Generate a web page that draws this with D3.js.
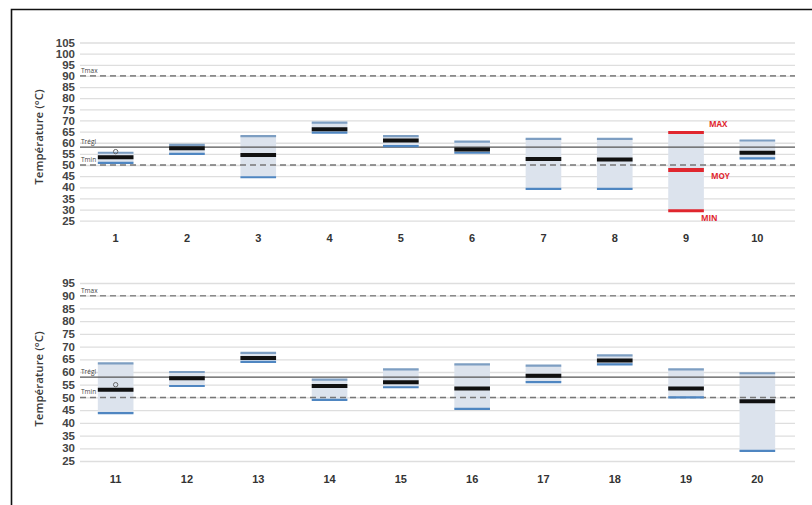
<!DOCTYPE html>
<html>
<head>
<meta charset="utf-8">
<script src="https://cdn.jsdelivr.net/npm/d3@7"></script>
<style>
  body { margin: 0; background: #fff; }
  svg { display: block; font-family: "Open Sans", "Liberation Sans", sans-serif; }
</style>
</head>
<body>
<div id="chart"></div>
<script>
const w = 812
const h = 505

// données
const categories = ['1','2','3','4','5','6','7','8','9','10','11','12','13','14','15','16','17','18','19','20']
const maxVals  = [55.5, 59, 63, 69, 63, 60.5, 61.7, 61.7, 64.6, 61, 63.4, 60, 67.5, 57, 61, 63, 62.5, 66.5, 61, 59.5]
const meanVals = [53.5, 57.5, 54.5, 66, 61, 57, 52.7, 52.5, 47.8, 55.5, 53, 57.5, 65.5, 54.5, 56, 53.5, 58.5, 64.5, 53.5, 48.5]
const minVals  = [51, 55, 44.5, 64.5, 58.5, 55.5, 39.3, 39.3, 29.5, 53, 43.8, 54.5, 64, 49, 54, 45.5, 56, 63, 50, 29]
const markers = [{ cat: '1', value: 56 }, { cat: '11', value: 55 }]
const highlighted = '9'

const refLines = [
  { name: 'Tmax', value: 90, dash: '6,4', color: '#8a8a8a', width: 1.6 },
  { name: 'Trégl', value: 58, dash: null, color: '#555', width: 1.2 },
  { name: 'Tmin', value: 50, dash: '6,4', color: '#777', width: 1.6 }
]

const ticksTop = d3.range(25, 106, 5)
const ticksBottom = d3.range(25, 96, 5)

const data = categories.map((c, i) => ({ cat: c, max: maxVals[i], mean: meanVals[i], min: minVals[i] }))

const svg = d3.select('#chart')
  .append('svg')
  .attr('width', w)
  .attr('height', h)

// cadre
svg.append('path')
  .attr('d', 'M11.5,505 L11.5,9.5 L812,9.5')
  .attr('fill', 'none')
  .attr('stroke', '#111')
  .attr('stroke-width', 1.6)

function panel(rows, ticks, top, bottom, labelY) {
  const left = 80, right = 795
  const x = d3.scaleBand()
    .domain(rows.map(d => d.cat))
    .range([left, left + 71.3 * rows.length])
  const y = d3.scaleLinear()
    .domain([25, d3.max(ticks)])
    .range([bottom, top])

  const g = svg.append('g')

  // grille
  g.append('g')
    .attr('transform', `translate(${left},0)`)
    .call(d3.axisLeft(y).tickValues(ticks).tickSize(-(right - left)).tickFormat(''))
    .call(a => a.select('.domain').remove())
    .call(a => a.selectAll('line').attr('stroke', '#dedede').attr('stroke-width', 1.3))

  // graduations
  g.append('g')
    .attr('transform', `translate(${left - 3},0)`)
    .call(d3.axisLeft(y).tickValues(ticks).tickSize(0).tickPadding(2))
    .call(a => a.select('.domain').remove())
    .call(a => a.selectAll('text')
      .attr('font-size', 11.5)
      .attr('font-weight', 700)
      .attr('fill', '#444'))

  // catégories
  g.append('g')
    .attr('transform', `translate(0,${bottom})`)
    .call(d3.axisBottom(x).tickSize(0).tickPadding(14))
    .call(a => a.select('.domain').remove())
    .call(a => a.selectAll('text')
      .attr('font-size', 11)
      .attr('font-weight', 700)
      .attr('fill', '#333'))

  // titre axe
  g.append('text')
    .attr('transform', `translate(43,${labelY}) rotate(-90)`)
    .attr('text-anchor', 'middle')
    .attr('font-size', 11.5)
    .attr('font-weight', 600)
    .attr('fill', '#3a3a3a')
    .text('Température (°C)')

  const bw = x.bandwidth() / 2
  const bx = d => x(d.cat) + x.bandwidth() / 2 - bw / 2

  // boîtes
  g.selectAll('rect.box')
    .data(rows)
    .enter()
    .append('rect')
    .attr('class', 'box')
    .attr('x', bx)
    .attr('y', d => y(d.max))
    .attr('width', bw)
    .attr('height', d => y(d.min) - y(d.max))
    .attr('fill', '#dce3ed')

  // lignes de référence
  refLines.forEach(r => {
    g.append('line')
      .attr('x1', left).attr('x2', right)
      .attr('y1', y(r.value)).attr('y2', y(r.value))
      .attr('stroke', r.color)
      .attr('stroke-width', r.width)
      .attr('stroke-dasharray', r.dash)
    g.append('text')
      .attr('x', left + 1)
      .attr('y', y(r.value) - 3)
      .attr('font-size', 6.5)
      .attr('fill', '#444')
      .text(r.name)
  })

  const isHi = d => d.cat === highlighted

  // max
  g.selectAll('line.max')
    .data(rows)
    .enter()
    .append('line')
    .attr('x1', bx).attr('x2', d => bx(d) + bw)
    .attr('y1', d => y(d.max)).attr('y2', d => y(d.max))
    .attr('stroke', d => isHi(d) ? '#e0262e' : '#7d9ec2')
    .attr('stroke-width', d => isHi(d) ? 3 : 2.2)

  // min
  g.selectAll('line.min')
    .data(rows)
    .enter()
    .append('line')
    .attr('x1', bx).attr('x2', d => bx(d) + bw)
    .attr('y1', d => y(d.min)).attr('y2', d => y(d.min))
    .attr('stroke', d => isHi(d) ? '#e0262e' : '#4f86c1')
    .attr('stroke-width', d => isHi(d) ? 3 : 2.2)

  // moyenne
  g.selectAll('line.mean')
    .data(rows)
    .enter()
    .append('line')
    .attr('x1', bx).attr('x2', d => bx(d) + bw)
    .attr('y1', d => y(d.mean)).attr('y2', d => y(d.mean))
    .attr('stroke', d => isHi(d) ? '#e0262e' : '#111')
    .attr('stroke-width', 4)

  // marqueurs
  g.selectAll('circle.mk')
    .data(markers.filter(m => x(m.cat) !== undefined))
    .enter()
    .append('circle')
    .attr('cx', d => x(d.cat) + x.bandwidth() / 2)
    .attr('cy', d => y(d.value))
    .attr('r', 2.2)
    .attr('fill', 'none')
    .attr('stroke', '#666')
    .attr('stroke-width', 1)

  // étiquettes MAX / MOY / MIN
  const hi = rows.find(isHi)
  if (hi) {
    const xe = bx(hi) + bw
    const lab = [
      { t: 'MAX', v: hi.max, dx: 5, dy: -5 },
      { t: 'MOY', v: hi.mean, dx: 7, dy: 9 },
      { t: 'MIN', v: hi.min, dx: -3, dy: 10 }
    ]
    g.selectAll('text.hi')
      .data(lab)
      .enter()
      .append('text')
      .attr('x', d => xe + d.dx)
      .attr('y', d => y(d.v) + d.dy)
      .attr('font-size', 8)
      .attr('font-weight', 700)
      .attr('fill', '#e0262e')
      .text(d => d.t)
  }
}

panel(data.slice(0, 10), ticksTop, 42.5, 220.7, 137)
panel(data.slice(10), ticksBottom, 283, 461, 379)
</script>
</body>
</html>
